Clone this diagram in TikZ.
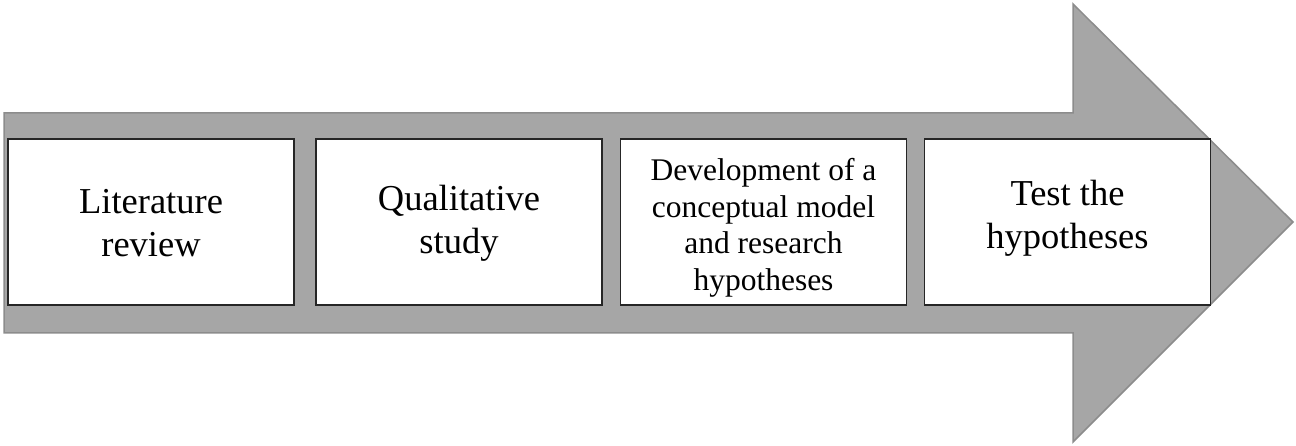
\documentclass[tikz,border=0pt]{standalone}
\usepackage{fontspec}
\setmainfont{Liberation Serif}
\definecolor{arrowfill}{HTML}{A6A6A6}
\definecolor{arrowline}{HTML}{8C8C8C}
\definecolor{boxline}{HTML}{262626}
\begin{document}
\begin{tikzpicture}[x=1pt,y=-1pt,
  stagebox/.style={draw=boxline, line width=1.2pt, fill=white, minimum width=286pt, minimum height=166pt, inner sep=0pt},
  bigtext/.style={font=\fontsize{36.5}{43}\selectfont, align=center},
  smalltext/.style={font=\fontsize{31.5}{36.5}\selectfont, align=center}]
\useasboundingbox (0,0) rectangle (1296,446);
\fill[arrowfill, draw=arrowline, line width=1.5pt, line join=miter]
  (4,113) -- (1073,113) -- (1073,4) -- (1293,222) -- (1073,442) -- (1073,333) -- (4,333) -- cycle;
\node[stagebox] (b1) at (151,222) {};
\node[stagebox] (b2) at (459,222) {};
\node[stagebox] (b3) at (763.5,222) {};
\node[stagebox] (b4) at (1067.5,222) {};
\node[bigtext] (t1) at ([yshift=-1pt]b1.center) {Literature\\review};
\node[bigtext] (t2) at ([yshift=-1pt]b2.center) {Qualitative\\study};
\node[smalltext] (t3) at ([yshift=-6pt]b3.center) {Development of a\\conceptual model\\and research\\hypotheses};
\node[bigtext] (t4) at ([yshift=4pt]b4.center) {Test the\\hypotheses};
\end{tikzpicture}
\end{document}
